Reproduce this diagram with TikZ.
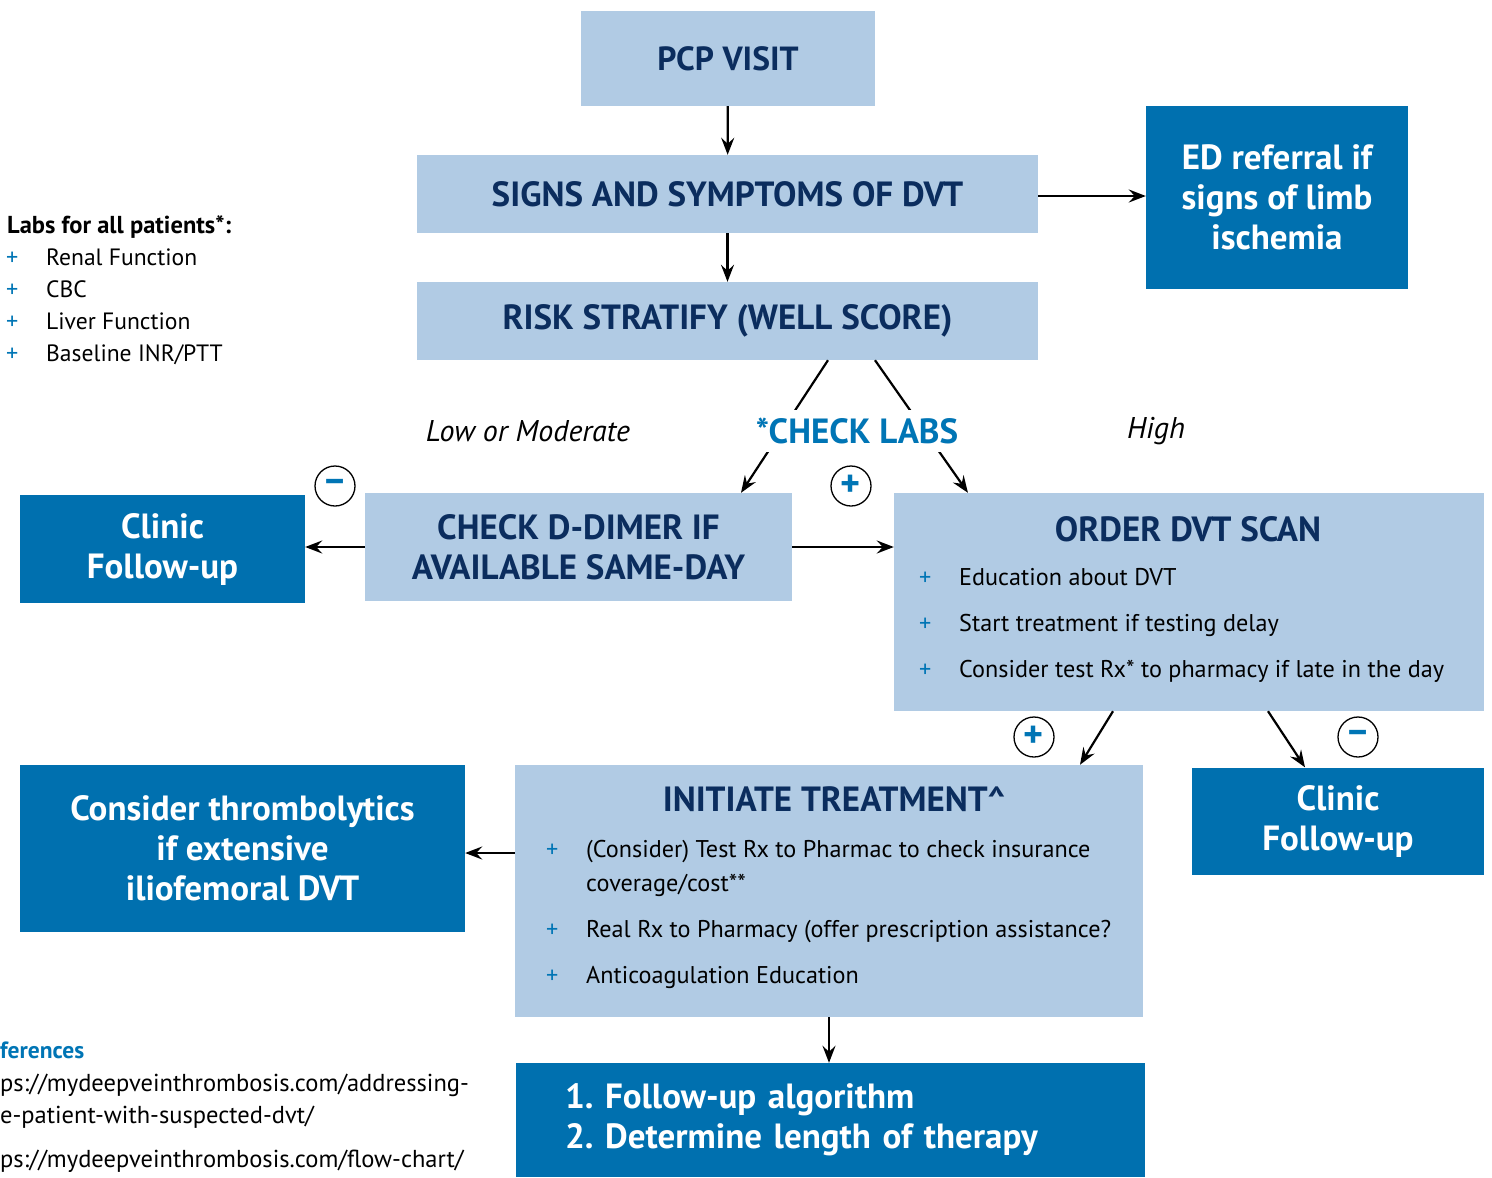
\documentclass[tikz,border=0pt]{standalone}
\usepackage{fontspec}
\setmainfont{PT Sans}
\usepackage{xcolor}
\usetikzlibrary{arrows.meta}
\frenchspacing

\definecolor{paleblue}{HTML}{B1CBE4}
\definecolor{deepblue}{HTML}{0070AF}
\definecolor{navy}{HTML}{0B2D5E}
\definecolor{accent}{HTML}{0075B5}

\newcommand\headfont{\bfseries\fontsize{35}{40}\selectfont}
\newcommand\itemfont{\fontsize{24.2}{28}\selectfont}
\newcommand\notefont{\fontsize{23.6}{28}\selectfont}
\newcommand\signfont{\bfseries\fontsize{38}{38}\selectfont}

\begin{document}
\begin{tikzpicture}[x=1pt,y=-1pt,
  pale/.style={fill=paleblue, inner sep=0, align=center, text=navy, font=\headfont},
  dark/.style={fill=deepblue, inner sep=0, align=center, text=white, font=\headfont},
  arr/.style={line width=2.2pt, -{Stealth[length=17pt,width=13pt,inset=6pt]}},
  sign/.style={circle, draw, line width=1.3pt, minimum size=40pt, inner sep=0, text=accent, font=\signfont},
  item/.style={anchor=base west, inner sep=0, font=\itemfont},
  plus/.style={anchor=base west, inner sep=0, text=accent, font=\itemfont}]
\useasboundingbox (0,0) rectangle (1492,1178);

% boxes
\node[pale, minimum width=294pt, minimum height=95pt, font=\bfseries\fontsize{33.5}{40}\selectfont] (pcp) at (728,58.5) {PCP VISIT};
\node[pale, minimum width=621pt, minimum height=78pt] (signs) at (727.5,194) {SIGNS AND SYMPTOMS OF DVT};
\node[pale, minimum width=621pt, minimum height=78pt] (risk) at (727.5,321) {RISK STRATIFY (WELL SCORE)};
\node[dark, minimum width=262pt, minimum height=183pt] (ed) at (1277,197.5) {ED referral if\\signs of limb\\ischemia};
\node[pale, minimum width=427pt, minimum height=108pt] (dimer) at (578.5,547) {CHECK D-DIMER IF\\AVAILABLE SAME-DAY};
\node[dark, minimum width=285pt, minimum height=108pt] (clinicA) at (162.5,549) {Clinic\\Follow-up};
\node[pale, minimum width=590pt, minimum height=218pt] (scan) at (1189,602) {};
\node[pale, minimum width=628pt, minimum height=252pt] (treat) at (829,891) {};
\node[dark, minimum width=292pt, minimum height=107pt] (clinicB) at (1338,821) {Clinic\\Follow-up};
\node[dark, minimum width=445pt, minimum height=167pt] (throm) at (242.5,848.5) {Consider thrombolytics\\if extensive\\iliofemoral DVT};
\node[dark, minimum height=114pt, text width=531pt, inner xsep=49pt, align=left] (fup) at (830.5,1120) {1. Follow-up algorithm\\2. Determine length of therapy};

% box contents
\node[font=\headfont, text=navy, anchor=base] (scant) at (1188,541) {ORDER DVT SCAN};
\node[plus] (s1p) at (919,585) {+};
\node[item] (s1) at (959,585) {Education about DVT};
\node[plus] (s2p) at (919,631) {+};
\node[item] (s2) at (959,631) {Start treatment if testing delay};
\node[plus] (s3p) at (919,677) {+};
\node[item] (s3) at (959,677) {Consider test Rx* to pharmacy if late in the day};

\node[font=\headfont, text=navy, anchor=base] (treatt) at (834,811) {INITIATE TREATMENT\^{}};
\node[plus] (t1p) at (546,857) {+};
\node[item] (t1) at (586,857) {(Consider) Test Rx to Pharmac to check insurance};
\node[item] (t1b) at (586,891) {coverage/cost**};
\node[plus] (t2p) at (546,937) {+};
\node[item] (t2) at (586,937) {Real Rx to Pharmacy (offer prescription assistance?};
\node[plus] (t3p) at (546,983) {+};
\node[item] (t3) at (586,983) {Anticoagulation Education};

% side notes
\node[anchor=base west, inner sep=0, font=\bfseries\fontsize{24.5}{28}\selectfont] (labs) at (7,233) {Labs for all patients*:};
\node[plus] (l1p) at (6,265) {+};
\node[item, font=\notefont] (l1) at (46,265) {Renal Function};
\node[plus] (l2p) at (6,297) {+};
\node[item, font=\notefont] (l2) at (46,297) {CBC};
\node[plus] (l3p) at (6,329) {+};
\node[item, font=\notefont] (l3) at (46,329) {Liver Function};
\node[plus] (l4p) at (6,361) {+};
\node[item, font=\notefont] (l4) at (46,361) {Baseline INR/PTT};

\node[anchor=base west, inner sep=0, text=accent, font=\bfseries\fontsize{23.5}{28}\selectfont] (refs) at (0,1058) {ferences};
\node[item, font=\fontsize{24.5}{28}\selectfont] (r1) at (0,1091) {ps://mydeepveinthrombosis.com/addressing-};
\node[item, font=\fontsize{24.5}{28}\selectfont] (r1b) at (0,1123) {e-patient-with-suspected-dvt/};
\node[item, font=\fontsize{24.5}{28}\selectfont] (r2) at (0,1167) {ps://mydeepveinthrombosis.com/flow-chart/};

% connectors
\draw[arr] (pcp) -- (signs);
\draw[arr] (signs) -- (risk);
\draw[arr] ([yshift=-2pt]signs.east) -- ([yshift=-2pt]signs.east -| ed.west);
\draw[arr] ([xshift=100.5pt]risk.south) -- ([xshift=162.5pt]dimer.north);
\draw[arr] ([xshift=147.5pt]risk.south) -- ([xshift=-221pt]scan.north);
\draw[arr] (dimer) -- (dimer -| clinicA.east);
\draw[arr] (dimer.east) -- (dimer.east -| scan.west);
\draw[arr] ([xshift=-76pt]scan.south) -- ([xshift=251pt]treat.north);
\draw[arr] ([xshift=79pt]scan.south) -- ([xshift=-33pt]clinicB.north);
\draw[arr] ([yshift=38pt]treat.west) -- ([yshift=38pt]treat.west -| throm.east);
\draw[arr] (treat.south) -- (treat.south |- fup.north);

% labels
\node[fill=white, inner xsep=2pt, inner ysep=8pt, text=accent, font=\headfont] (labs2) at (857,431) {*CHECK LABS};
\node[font=\itshape\fontsize{30}{34}\selectfont] (low) at (528,431) {Low or Moderate};
\node[font=\itshape\fontsize{30}{34}\selectfont] (high) at (1156,431) {High};

\node[sign] (m1) at (335,486) {–};
\node[sign] (p1) at (851,486) {+};
\node[sign] (p2) at (1034,737) {+};
\node[sign] (m2) at (1358,737) {–};
\end{tikzpicture}
\end{document}
